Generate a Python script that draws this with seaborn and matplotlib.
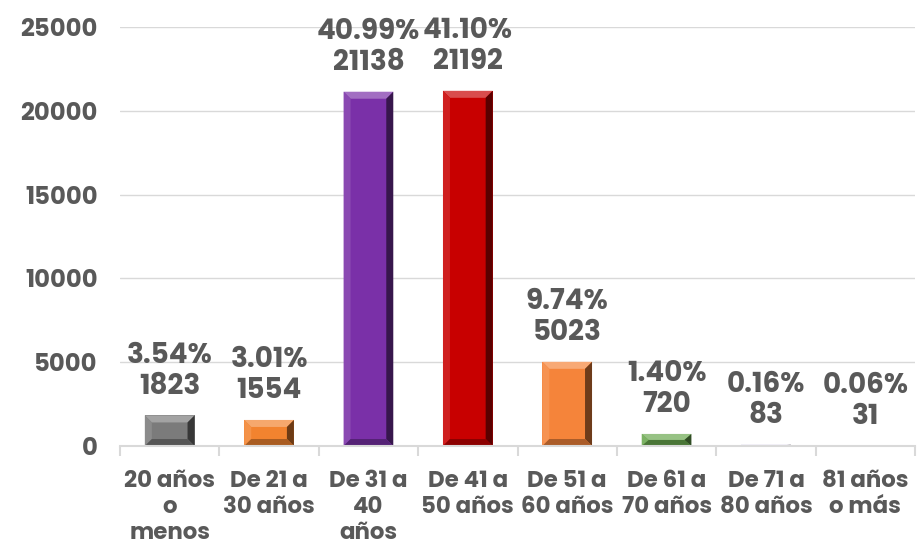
import matplotlib
matplotlib.use("Agg")
import matplotlib.pyplot as plt
from matplotlib.patches import Polygon
from matplotlib.ticker import FixedLocator
import matplotlib.colors as mcolors
import seaborn as sns
import pandas as pd
import numpy as np

# Age groups and counts
categories = ["20 años\no\nmenos", "De 21 a\n30 años", "De 31 a\n40\naños", "De 41 a\n50 años",
              "De 51 a\n60 años", "De 61 a\n70 años", "De 71 a\n80 años", "81 años\no más"]
counts = [1823, 1554, 21138, 21192, 5023, 720, 83, 31]
bar_colors = ["#7b7b7b", "#f2832f", "#7a30a8", "#c80000", "#f5843a", "#6aa84f", "#d4cde6", "#e8e4f0"]
y_ticks = [0, 5000, 10000, 15000, 20000, 25000]

sns.set_theme(style="white")
plt.rcParams["font.family"] = ["Poppins", "DejaVu Sans"]
plt.rcParams["font.weight"] = "bold"
text_color = "#595959"

df = pd.DataFrame({"grupo": categories, "total": counts})
total = sum(counts)

fig = plt.figure(figsize=(9.18, 5.48), dpi=100)
ax = fig.add_axes([120 / 918, 1 - 446 / 548, (915 - 120) / 918, (446 - 27) / 548])

sns.barplot(data=df, x="grupo", y="total", hue="grupo", palette=bar_colors,
            width=0.5, legend=False, ax=ax, saturation=1, edgecolor="none", zorder=3)

ax.set_ylim(0, 25000)
ax.set_xlim(-0.5, len(categories) - 0.5)
ax.set_yticks(y_ticks)
ax.set_yticklabels([str(v) for v in y_ticks])
ax.yaxis.grid(True, color="#d9d9d9", linewidth=1, zorder=0)
ax.set_axisbelow(True)
for side in ["left", "top", "right"]:
    ax.spines[side].set_visible(False)
ax.spines["bottom"].set_color("#d9d9d9")
ax.spines["bottom"].set_linewidth(1.5)
ax.spines["bottom"].set_zorder(4)

ax.tick_params(axis="y", length=0, pad=16, labelsize=17.5, labelcolor=text_color)
ax.tick_params(axis="x", which="major", length=0, pad=17, labelsize=16.5, labelcolor=text_color)
ax.xaxis.set_minor_locator(FixedLocator(np.arange(-0.5, len(categories), 1.0)))
ax.tick_params(axis="x", which="minor", length=7, width=1.5, color="#d9d9d9", bottom=True)
for lbl in ax.get_xticklabels():
    lbl.set_linespacing(1.2)
for lbl in ax.get_xticklabels() + ax.get_yticklabels():
    lbl.set_fontweight("bold")
ax.set_xlabel("")
ax.set_ylabel("")

# Bevel shading on each bar, sized from the bar geometry
fig.canvas.draw()
inv = ax.transData.inverted()
p0 = inv.transform((0, 0))
p1 = inv.transform((7, 7))
bx, by = p1[0] - p0[0], p1[1] - p0[1]
for i, (patch, col) in enumerate(zip(ax.patches[:len(counts)], bar_colors)):
    x0, y0 = patch.get_x(), patch.get_y()
    w, h = patch.get_width(), patch.get_height()
    x1, y1 = x0 + w, y0 + h
    b_y = min(by, h / 2)
    b_x = bx
    rgb = np.array(mcolors.to_rgb(col))
    light = tuple(rgb + (1 - rgb) * 0.3)
    lighter = tuple(rgb + (1 - rgb) * 0.12)
    dark = tuple(rgb * 0.45)
    darkish = tuple(rgb * 0.7)
    faces = [
        ([(x0, y1), (x1, y1), (x1 - b_x, y1 - b_y), (x0 + b_x, y1 - b_y)], light),
        ([(x0, y0), (x0 + b_x, y0 + b_y), (x0 + b_x, y1 - b_y), (x0, y1)], lighter),
        ([(x1, y0), (x1, y1), (x1 - b_x, y1 - b_y), (x1 - b_x, y0 + b_y)], dark),
        ([(x0, y0), (x1, y0), (x1 - b_x, y0 + b_y), (x0 + b_x, y0 + b_y)], darkish),
    ]
    for verts, fc in faces:
        ax.add_patch(Polygon(verts, closed=True, facecolor=fc, edgecolor="none", zorder=3.5))

    ax.annotate(f"{100 * counts[i] / total:.2f}%\n{counts[i]}",
                xy=(x0 + w / 2, y1), xytext=(0, 10), textcoords="offset points",
                ha="center", va="bottom", fontsize=20, fontweight="bold",
                color=text_color, linespacing=1.08, annotation_clip=False, zorder=5)

fig.savefig("out.png", dpi=100)
